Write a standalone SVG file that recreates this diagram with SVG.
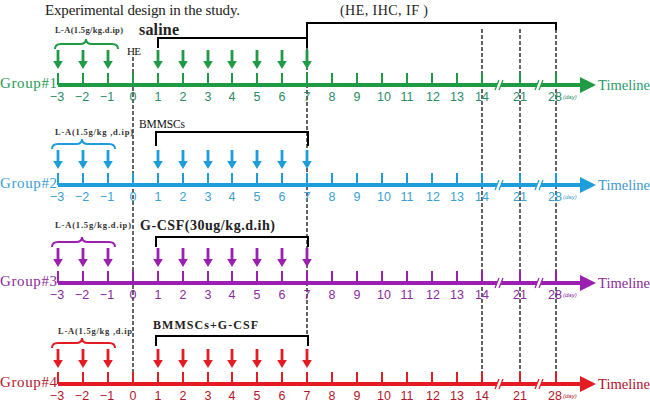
<svg xmlns="http://www.w3.org/2000/svg" xmlns:xlink="http://www.w3.org/1999/xlink" width="650" height="407" viewBox="0 0 650 407">
<style>
.serif{font-family:"Liberation Serif","Times New Roman",serif}
.sans{font-family:"Liberation Sans",Arial,sans-serif}
.num{font-family:"Liberation Sans",Arial,sans-serif;font-size:12.5px;text-anchor:middle}
.grp{font-family:"Liberation Serif","Times New Roman",serif;font-size:15px}
.tl{font-family:"Liberation Serif","Times New Roman",serif;font-size:14.5px}
.la{font-family:"Liberation Serif","Times New Roman",serif;font-size:8.5px;font-weight:bold}
.brace{fill:none;stroke-width:2}
.dash{fill:none;stroke:#222;stroke-width:1.4;stroke-dasharray:4 2}
.brk{fill:none;stroke:#000;stroke-width:2}
.day{font-family:"Liberation Sans",Arial,sans-serif;font-size:6px;font-style:italic}
</style>
<defs>
<path id="dn" d="M-1.4,0H1.4V11H4.8L0,19L-4.8,11H-1.4Z" stroke="none"/>
<g id="ax">
<path d="M58,0H582" stroke-width="4" fill="none"/>
<path d="M58,-12V0M83,-12V0M108,-12V0M133,-12V0M158,-12V0M183,-12V0M208,-12V0M232,-12V0M257,-12V0M282,-12V0M307,-12V0M332,-12V0M357,-12V0M382,-12V0M407,-12V0M432,-12V0M457,-12V0M482,-12V0M520,-12V0M556,-12V0" stroke-width="2" fill="none"/>
<polygon points="580,-8 596,0 580,8" stroke="none"/>
<path d="M501,-5L497,5M541,-5L537,5" stroke="#fff" stroke-width="4" fill="none"/>
<path d="M499,-5L495,5M503,-5L499,5M539,-5L535,5M543,-5L539,5" stroke-width="1.2" fill="none"/>
<use xlink:href="#dn" x="58" y="-35"/>
<use xlink:href="#dn" x="83" y="-35"/>
<use xlink:href="#dn" x="108" y="-35"/>
<use xlink:href="#dn" x="158" y="-35"/>
<use xlink:href="#dn" x="183" y="-35"/>
<use xlink:href="#dn" x="208" y="-35"/>
<use xlink:href="#dn" x="232" y="-35"/>
<use xlink:href="#dn" x="257" y="-35"/>
<use xlink:href="#dn" x="282" y="-35"/>
<use xlink:href="#dn" x="307" y="-35"/>
</g>
<g id="nums" stroke="none">
<text class="num" x="57" y="16">−3</text>
<text class="num" x="82" y="16">−2</text>
<text class="num" x="107" y="16">−1</text>
<text class="num" x="133" y="16">0</text>
<text class="num" x="158" y="16">1</text>
<text class="num" x="183" y="16">2</text>
<text class="num" x="208" y="16">3</text>
<text class="num" x="232" y="16">4</text>
<text class="num" x="257" y="16">5</text>
<text class="num" x="282" y="16">6</text>
<text class="num" x="307" y="16">7</text>
<text class="num" x="332" y="16">8</text>
<text class="num" x="357" y="16">9</text>
<text class="num" x="384" y="16">10</text>
<text class="num" x="407" y="16">11</text>
<text class="num" x="433" y="16">12</text>
<text class="num" x="457" y="16">13</text>
<text class="num" x="482" y="16">14</text>
<text class="num" x="520" y="16">21</text>
<text class="num" x="555" y="16">28</text>
<text class="day" x="563" y="14">(day)</text>
</g>
</defs>
<rect width="650" height="407" fill="#fff"/>
<text class="serif" x="45" y="15" font-size="15" textLength="195" fill="#222">Experimental design in the study.</text>
<text class="serif" x="340" y="15" font-size="14" textLength="88" fill="#222">(HE, IHC, IF )</text>
<g id="connectors">
<path class="dash" d="M133,57V384M307,48V336M482,29V384M520,29V384M556,29V384"/>
<path class="brk" d="M158,48V38H307M307,48V23H556V30"/>
<path class="brk" d="M156,146V132H308V146"/>
<path class="brk" d="M156,247V237H308V247"/>
<path class="brk" d="M156,346V336H308V346"/>
</g>
<text class="serif" x="127" y="55" font-size="11" textLength="14" fill="#111">HE</text>
<text class="serif" x="139" y="35" font-size="16" font-weight="bold" textLength="40" fill="#222">saline</text>
<text class="serif" x="139" y="128" font-size="11.5" textLength="46" fill="#111">BMMSCs</text>
<text class="serif" x="140" y="230" font-size="14" font-weight="bold" textLength="135" fill="#222">G-CSF(30ug/kg.d.ih)</text>
<text class="serif" x="153" y="329" font-size="12" font-weight="bold" textLength="105" fill="#222">BMMSCs+G-CSF</text>
<g id="group1" transform="translate(0,85)">
<use xlink:href="#ax" stroke="#1f9b45" fill="#1f9b45"/>
<use xlink:href="#nums" fill="#2a8b68"/>
<path class="brace" stroke="#1f9b45" d="M55,-36Q55,-41 61,-41H80Q86,-41 86,-46Q86,-41 92,-41H112Q118,-41 118,-36"/>
<text class="la" x="55" y="-52" textLength="68" fill="#333">L-A(1.5g/kg.d.ip)</text>
<text class="grp" x="0" y="3" textLength="57" fill="#2a9a55">Group#1</text>
<text class="tl" x="598" y="5" textLength="52" fill="#2a9a6a">Timeline</text>
</g>
<g id="group2" transform="translate(0,185)">
<use xlink:href="#ax" stroke="#1e9ddb" fill="#1e9ddb"/>
<use xlink:href="#nums" fill="#3a9fd2"/>
<path class="brace" stroke="#1e9ddb" d="M52,-36Q52,-41 58,-41H76Q82,-41 82,-46Q82,-41 88,-41H109Q115,-41 115,-36"/>
<text class="la" x="55" y="-50" textLength="78" fill="#333">L-A(1.5g/kg ,d.ip)</text>
<text class="grp" x="0" y="3" textLength="57" fill="#3a9fd2">Group#2</text>
<text class="tl" x="598" y="5" textLength="52" fill="#3a9ad0">Timeline</text>
</g>
<g id="group3" transform="translate(0,283)">
<use xlink:href="#ax" stroke="#9b1fb0" fill="#9b1fb0"/>
<use xlink:href="#nums" fill="#8b2a9b"/>
<path class="brace" stroke="#9b1fb0" d="M52,-36Q52,-41 58,-41H76Q82,-41 82,-46Q82,-41 88,-41H109Q115,-41 115,-36"/>
<text class="la" x="55" y="-55" textLength="76" fill="#333">L-A(1.5g/kg.d.ip)</text>
<text class="grp" x="0" y="3" textLength="57" fill="#8b2a9b">Group#3</text>
<text class="tl" x="598" y="5" textLength="52" fill="#8a2a9a">Timeline</text>
</g>
<g id="group4" transform="translate(0,384)">
<use xlink:href="#ax" stroke="#e31b23" fill="#e31b23"/>
<use xlink:href="#nums" fill="#b3152a"/>
<path class="brace" stroke="#e31b23" d="M52,-36Q52,-41 58,-41H76Q82,-41 82,-46Q82,-41 88,-41H109Q115,-41 115,-36"/>
<text class="la" x="58" y="-50" textLength="74" fill="#333">L-A(1.5g/kg ,d.ip</text>
<text class="grp" x="0" y="3" textLength="57" fill="#b3152a">Group#4</text>
<text class="tl" x="598" y="5" textLength="52" fill="#b01028">Timeline</text>
</g>
</svg>
